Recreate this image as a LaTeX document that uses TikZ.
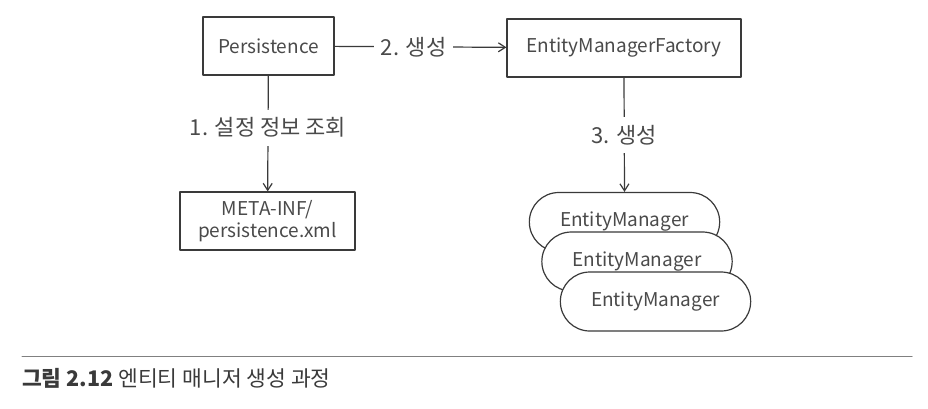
\documentclass[tikz,border=0pt]{standalone}
\usepackage{fontspec}
\setmainfont{Noto Sans CJK KR}
\usetikzlibrary{arrows.meta,shapes.misc}
\definecolor{inkgray}{HTML}{3A3A3A}
\definecolor{txtgray}{HTML}{4A4A4A}
\tikzset{
	box/.style={draw=inkgray,line width=1.2pt,fill=white,minimum height=58pt,align=center,text=txtgray},
	emnode/.style={draw=inkgray,line width=1.2pt,fill=white,rounded rectangle,minimum width=197pt,minimum height=59pt,text=txtgray},
	lbl/.style={fill=white,text=txtgray,inner xsep=7pt,inner ysep=8pt,font=\fontsize{22}{24}\selectfont}
}
\begin{document}
\begin{tikzpicture}[x=1pt,y=-1pt,>={Straight Barb[length=7pt,width=9pt]},line join=round,line cap=round,font=\fontsize{19}{22}\selectfont]
	\useasboundingbox (0,0) rectangle (928,408);
	% boxes
	\node[box,minimum width=131pt] (persistence) at (268.5,46) {Persistence};
	\node[box,minimum width=234pt] (emf) at (624,48) {EntityManagerFactory};
	\node[box,minimum width=175pt] (metainf) at (267.5,221) {META-INF/\\persistence.xml};
	% entity managers
	\node[emnode] (em1) at (624.5,222) {EntityManager};
	\node[emnode] (em2) at (637,261.5) {EntityManager};
	\node[emnode] (em3) at (655.5,301.5) {EntityManager};
	% connectors
	\draw[->,draw=inkgray,line width=1.2pt] (persistence) -- node[lbl,pos=.46]{2. 생성} (emf);
	\draw[->,draw=inkgray,line width=1.2pt] (persistence) -- node[lbl,pos=.45]{1. 설정 정보 조회} (metainf);
	\draw[->,draw=inkgray,line width=1.2pt] (emf.south) -- node[lbl]{3. 생성} (em1.north);
	% caption
	\draw[draw=gray,line width=1pt] (22,356) -- (912,356);
	\node[anchor=west,text=inkgray,inner sep=0pt,font=\fontsize{21.5}{23}\selectfont] (caption) at (22,378) {{\bfseries 그림 2.12} 엔티티 매니저 생성 과정};
\end{tikzpicture}
\end{document}
